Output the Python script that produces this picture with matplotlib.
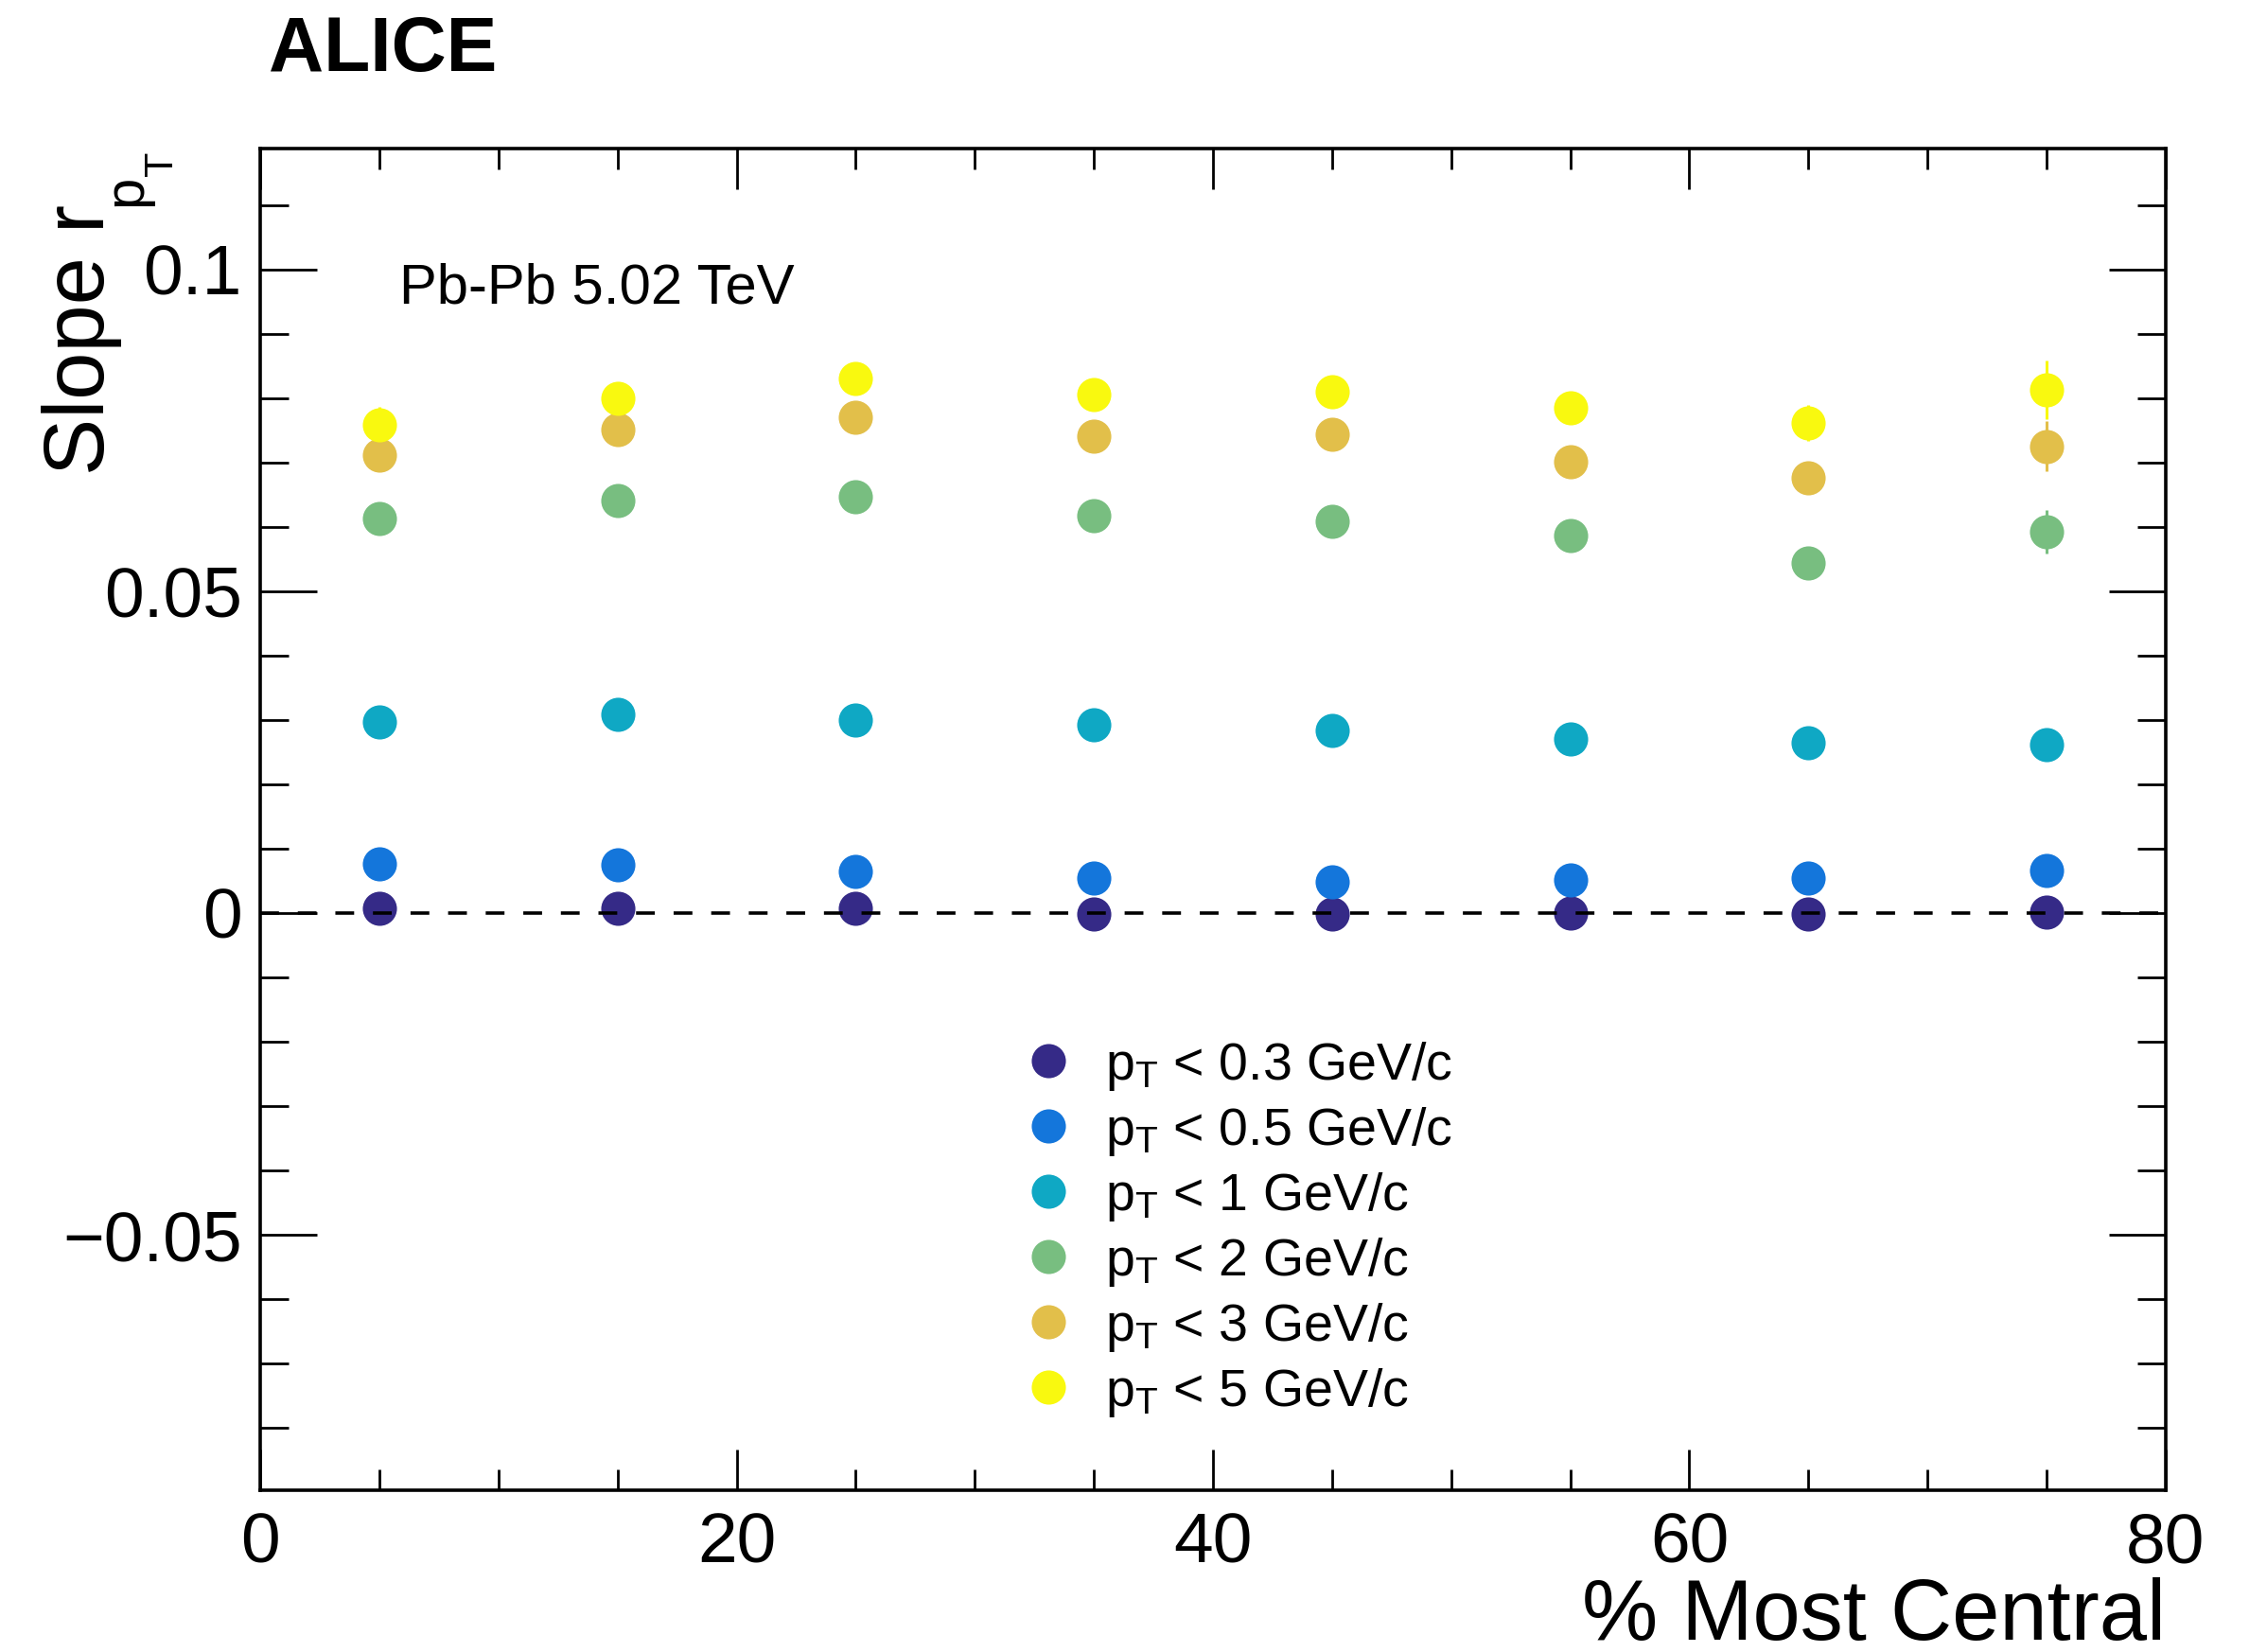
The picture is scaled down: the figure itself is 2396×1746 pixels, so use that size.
import matplotlib
matplotlib.use('Agg')
import matplotlib.pyplot as plt
from matplotlib.ticker import MultipleLocator

plt.rcParams['font.family'] = ['Liberation Sans', 'DejaVu Sans']
plt.rcParams['mathtext.fontset'] = 'custom'
plt.rcParams['mathtext.rm'] = 'Liberation Sans'
plt.rcParams['mathtext.it'] = 'Liberation Sans'

# centrality bin centres (%)
centrality = [5, 15, 25, 35, 45, 55, 65, 75]

labels = [r'$\mathregular{p_{T}}$ < 0.3 GeV/c',
          r'$\mathregular{p_{T}}$ < 0.5 GeV/c',
          r'$\mathregular{p_{T}}$ < 1 GeV/c',
          r'$\mathregular{p_{T}}$ < 2 GeV/c',
          r'$\mathregular{p_{T}}$ < 3 GeV/c',
          r'$\mathregular{p_{T}}$ < 5 GeV/c']
colors = ['#352a87', '#1476db', '#0fa8c4', '#78be80', '#e2bf4a', '#f9f90f']

slope_03 = [0.0008, 0.0008, 0.0007, -0.0001, -0.0001, 0.0000, -0.0001, 0.0001]
slope_05 = [0.0077, 0.0075, 0.0065, 0.0054, 0.0049, 0.0051, 0.0054, 0.0066]
slope_1 = [0.0297, 0.0309, 0.0300, 0.0293, 0.0284, 0.0271, 0.0264, 0.0262]
slope_2 = [0.0613, 0.0641, 0.0647, 0.0618, 0.0609, 0.0586, 0.0544, 0.0593]
slope_3 = [0.0712, 0.0752, 0.0770, 0.0741, 0.0744, 0.0702, 0.0676, 0.0725]
slope_5 = [0.0759, 0.0800, 0.0831, 0.0805, 0.0810, 0.0785, 0.0761, 0.0813]

err_03 = [0.0004, 0.0004, 0.0004, 0.0004, 0.0005, 0.0005, 0.0006, 0.0008]
err_05 = [0.0006, 0.0006, 0.0006, 0.0007, 0.0007, 0.0008, 0.0009, 0.0012]
err_1 = [0.0008, 0.0008, 0.0009, 0.0009, 0.0010, 0.0011, 0.0013, 0.0018]
err_2 = [0.0012, 0.0012, 0.0013, 0.0013, 0.0014, 0.0016, 0.0020, 0.0034]
err_3 = [0.0016, 0.0016, 0.0016, 0.0017, 0.0018, 0.0020, 0.0024, 0.0039]
err_5 = [0.0028, 0.0022, 0.0022, 0.0022, 0.0023, 0.0024, 0.0028, 0.0046]

slopes = [slope_03, slope_05, slope_1, slope_2, slope_3, slope_5]
errors = [err_03, err_05, err_1, err_2, err_3, err_5]

W, H = 2396, 1746
fig = plt.figure(figsize=(W / 100, H / 100), dpi=100)
ax = fig.add_axes([0.1148, 0.0979, 0.9553 - 0.1148, 0.9101 - 0.0979])

handles = []
for y, e, c in zip(slopes, errors, colors):
    cont = ax.errorbar(centrality, y, yerr=e, fmt='o', color=c, ms=26, mew=0,
                       elinewidth=2.2, capsize=4, capthick=2.2, zorder=3)
    handles.append(cont[0])

zero = ax.axhline(0, color='black', lw=2.6, zorder=5)
zero.set_dashes([5.5, 5.5])

ax.set_xlim(0, 80)
ax.set_ylim(-0.0897, 0.1188)
ax.xaxis.set_major_locator(MultipleLocator(20))
ax.xaxis.set_minor_locator(MultipleLocator(5))
ax.yaxis.set_major_locator(MultipleLocator(0.05))
ax.yaxis.set_minor_locator(MultipleLocator(0.01))
ax.yaxis.set_major_formatter(plt.FuncFormatter(lambda v, p: '0' if abs(v) < 1e-9 else f'{v:g}'.replace('-', '\u2212')))

ax.tick_params(which='both', direction='in', top=True, right=True, width=2, labelsize=54)
ax.tick_params(axis='x', which='major', length=31, pad=16)
ax.tick_params(axis='x', which='minor', length=15.5)
ax.tick_params(axis='y', which='major', length=43, pad=14)
ax.tick_params(axis='y', which='minor', length=21.5)
for s in ax.spines.values():
    s.set_linewidth(2.6)

fig.text(0.9553, 1 - 1733 / H, '% Most Central', ha='right', va='baseline', fontsize=65)

# y title, ROOT style with a deep subscript
fig.text(110 / W, 1 - 216 / H, 'Slope r', rotation=90, rotation_mode='anchor',
         ha='right', va='baseline', fontsize=65)
fig.text(149 / W, 1 - 218 / H, 'p', rotation=90, rotation_mode='anchor',
         ha='left', va='baseline', fontsize=43)
fig.text(182 / W, 1 - 186 / H, 'T', rotation=90, rotation_mode='anchor',
         ha='left', va='baseline', fontsize=31)

fig.text(0.1185, 0.957, 'ALICE', fontsize=58, fontweight='bold', va='baseline')
fig.text(0.1761, 0.8167, 'Pb-Pb 5.02 TeV', fontsize=43, va='baseline')

ax.legend(handles, labels, loc='upper left', bbox_to_anchor=(0.3997, 0.336),
          frameon=False, fontsize=40, handlelength=1.0, handletextpad=0.58,
          borderpad=0, borderaxespad=0, labelspacing=0.235)

fig.savefig('out.png', dpi=100)
